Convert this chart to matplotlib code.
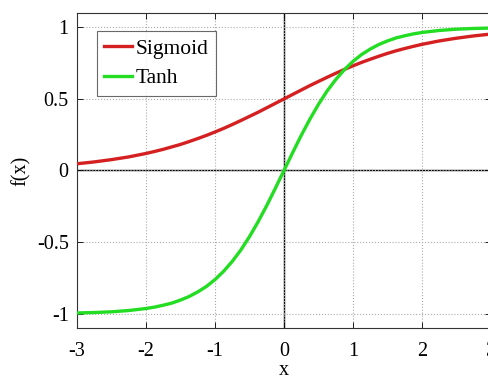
import numpy as np
import matplotlib
matplotlib.use('Agg')
import matplotlib.pyplot as plt

# values (finer steps where they bend most)
x = [-3.0, -2.75, -2.5, -2.25, -2.0, -1.875, -1.75, -1.625, -1.5, -1.375, -1.25, -1.125,
     -1.0, -0.875, -0.75, -0.625, -0.5, -0.375, -0.25, -0.125,
     0.0, 0.125, 0.25, 0.375, 0.5, 0.625, 0.75, 0.875,
     1.0, 1.125, 1.25, 1.375, 1.5, 1.625, 1.75, 1.875, 2.0, 2.25, 2.5, 2.75, 3.0]
sigmoid = [0.047, 0.060, 0.076, 0.095, 0.119, 0.133, 0.148, 0.165, 0.182, 0.202, 0.223, 0.245,
           0.269, 0.294, 0.321, 0.349, 0.378, 0.407, 0.438, 0.469,
           0.500, 0.531, 0.562, 0.593, 0.622, 0.651, 0.679, 0.706,
           0.731, 0.755, 0.777, 0.798, 0.818, 0.836, 0.852, 0.867, 0.881, 0.905, 0.924, 0.940, 0.953]
tanh = [-0.995, -0.992, -0.987, -0.978, -0.964, -0.954, -0.941, -0.926, -0.905, -0.880, -0.848, -0.810,
        -0.762, -0.704, -0.635, -0.555, -0.462, -0.358, -0.245, -0.124,
        0.000, 0.124, 0.245, 0.358, 0.462, 0.555, 0.635, 0.704,
        0.762, 0.810, 0.848, 0.880, 0.905, 0.926, 0.941, 0.954, 0.964, 0.978, 0.987, 0.992, 0.995]
xticks = [-3, -2, -1, 0, 1, 2, 3]
yticks = [-1, -0.5, 0, 0.5, 1]
yticklabels = ['-1', '-0.5', '0', '0.5', '1']

plt.rcParams['font.family'] = ['Liberation Serif', 'DejaVu Serif']

fig = plt.figure(figsize=(4.89, 3.77), dpi=100)
ax = fig.add_axes([0.1575, 0.130, 0.8465, 0.8355])

ax.axhline(0, color='black', lw=1.0, zorder=1)
ax.axvline(0, color='black', lw=1.0, zorder=1)
ax.plot(x, sigmoid, color='#d42020', lw=2.4, label='Sigmoid', zorder=3)
ax.plot(x, tanh, color='#22dd22', lw=2.4, label='Tanh', zorder=3)

ax.set_xlim(-3, 3)
ax.set_ylim(-1.1, 1.1)
ax.set_xticks(xticks)
ax.set_xticklabels([str(t) for t in xticks])
ax.set_yticks(yticks)
ax.set_yticklabels(yticklabels)
ax.tick_params(direction='in', labelsize=14.5, length=4, width=0.6,
               top=True, right=True)
ax.tick_params(axis='x', pad=10)
ax.tick_params(axis='y', pad=6)
ax.grid(True, linestyle=':', color='#aaaaaa', lw=0.8)
for s in ax.spines.values():
    s.set_linewidth(0.8)
    s.set_color('#333333')

ax.set_xlabel('x', fontsize=14.5, labelpad=0)
ax.set_ylabel('f(x)', fontsize=14.5, labelpad=4)

leg = ax.legend(loc='upper left', bbox_to_anchor=(0.048, 0.943), fontsize=15.5,
                frameon=True, fancybox=False, edgecolor='#444444',
                handlelength=1.3, handletextpad=0.15, borderpad=0.35,
                labelspacing=0.45, borderaxespad=0)
leg.get_frame().set_linewidth(0.8)

fig.savefig('out.png', dpi=100)
